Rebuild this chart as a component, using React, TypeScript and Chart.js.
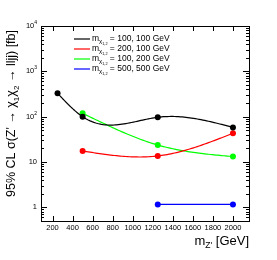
import React, { useEffect, useRef } from "react";
import { Chart, registerables } from "chart.js";
Chart.register(...registerables);

// ---- data ----
const blackX = [250, 500, 1250, 2000];
const blackY = [328, 100, 97, 58];
const redX = [500, 1250, 2000];
const redY = [17.5, 13.6, 43];
const greenX = [500, 1250, 2000];
const greenY = [119, 23.7, 13.2];
const blueX = [1250, 2000];
const blueY = [1.16, 1.16];

const seriesLabels = ["100, 100 GeV", "200, 100 GeV", "100, 200 GeV", "500, 500 GeV"];
const seriesColors = ["#000000", "#ff0000", "#00ff00", "#0000ff"];

const xTickValues = [200, 400, 600, 800, 1000, 1200, 1400, 1600, 1800, 2000];
const yTickValues = [1, 10, 100, 1000, 10000];
const yTickBase = ["1", "10", "10", "10", "10"];
const yTickExp = ["", "", "2", "3", "4"];

const FONT = "'Liberation Sans', Arial, Helvetica, sans-serif";

type Seg = { t: string; s: number; dy?: number };

function segWidth(ctx: CanvasRenderingContext2D, segs: Seg[]) {
  let w = 0;
  for (const g of segs) {
    ctx.font = `${g.s}px ${FONT}`;
    w += ctx.measureText(g.t).width;
  }
  return w;
}

function drawSegs(ctx: CanvasRenderingContext2D, segs: Seg[], x: number, y: number) {
  let cx = x;
  for (const g of segs) {
    ctx.font = `${g.s}px ${FONT}`;
    ctx.fillText(g.t, cx, y + (g.dy || 0));
    cx += ctx.measureText(g.t).width;
  }
}

// natural cubic spline through pixel points (x increasing), like ROOT's "C" option
function splinePath(ctx: CanvasRenderingContext2D, pts: { x: number; y: number }[]) {
  const n = pts.length;
  if (n < 2) return;
  ctx.moveTo(pts[0].x, pts[0].y);
  if (n === 2) {
    ctx.lineTo(pts[1].x, pts[1].y);
    return;
  }
  const h: number[] = [];
  for (let i = 0; i < n - 1; i++) h.push(pts[i + 1].x - pts[i].x);
  // solve tridiagonal for M (second derivatives), natural ends
  const M = new Array(n).fill(0);
  const a: number[] = [], b: number[] = [], c: number[] = [], d: number[] = [];
  for (let i = 1; i < n - 1; i++) {
    a.push(h[i - 1]);
    b.push(2 * (h[i - 1] + h[i]));
    c.push(h[i]);
    d.push(6 * ((pts[i + 1].y - pts[i].y) / h[i] - (pts[i].y - pts[i - 1].y) / h[i - 1]));
  }
  const m = b.length;
  for (let i = 1; i < m; i++) {
    const w = a[i] / b[i - 1];
    b[i] -= w * c[i - 1];
    d[i] -= w * d[i - 1];
  }
  const sol = new Array(m).fill(0);
  sol[m - 1] = d[m - 1] / b[m - 1];
  for (let i = m - 2; i >= 0; i--) sol[i] = (d[i] - c[i] * sol[i + 1]) / b[i];
  for (let i = 0; i < m; i++) M[i + 1] = sol[i];
  for (let i = 0; i < n - 1; i++) {
    const x0 = pts[i].x, x1 = pts[i + 1].x, y0 = pts[i].y, y1 = pts[i + 1].y, hh = h[i];
    const steps = 40;
    for (let k = 1; k <= steps; k++) {
      const x = x0 + (hh * k) / steps;
      const A = x1 - x, B = x - x0;
      const y =
        (M[i] * A * A * A) / (6 * hh) +
        (M[i + 1] * B * B * B) / (6 * hh) +
        (y0 / hh - (M[i] * hh) / 6) * A +
        (y1 / hh - (M[i + 1] * hh) / 6) * B;
      ctx.lineTo(x, y);
    }
  }
}

const splinePlugin = {
  id: "rootSpline",
  beforeDatasetDraw(chart: any, args: any) {
    const meta = args.meta;
    const ds = chart.data.datasets[args.index];
    const pts = meta.data.map((p: any) => ({ x: p.x, y: p.y }));
    const ctx: CanvasRenderingContext2D = chart.ctx;
    const { left, right, top, bottom } = chart.chartArea;
    ctx.save();
    ctx.beginPath();
    ctx.rect(left, top, right - left, bottom - top);
    ctx.clip();
    ctx.strokeStyle = ds.borderColor;
    ctx.lineWidth = 1.2;
    ctx.lineJoin = "round";
    ctx.beginPath();
    splinePath(ctx, pts);
    ctx.stroke();
    ctx.restore();
  },
};

const rootPlugin = {
  id: "rootStyle",
  afterDraw(chart: any) {
    const ctx: CanvasRenderingContext2D = chart.ctx;
    const { left, right, top, bottom } = chart.chartArea;
    const xs = chart.scales.x;
    const ys = chart.scales.y;
    ctx.save();
    ctx.strokeStyle = "#000";
    ctx.fillStyle = "#000";
    ctx.lineWidth = 1;

    // frame
    ctx.strokeRect(Math.round(left) + 0.5, Math.round(top) + 0.5, Math.round(right - left), Math.round(bottom - top));

    // x ticks (bottom & top)
    ctx.beginPath();
    for (const v of xTickValues) {
      const px = Math.round(xs.getPixelForValue(v)) + 0.5;
      ctx.moveTo(px, bottom);
      ctx.lineTo(px, bottom - 5);
      ctx.moveTo(px, top);
      ctx.lineTo(px, top + 5);
    }
    // y ticks (left & right), major and minor
    for (let e = -1; e <= 3; e++) {
      for (let m = 1; m <= 9; m++) {
        const v = m * Math.pow(10, e);
        if (v < 0.5 || v > 10000) continue;
        const py = Math.round(ys.getPixelForValue(v)) + 0.5;
        const len = m === 1 ? 6 : 3;
        ctx.moveTo(left, py);
        ctx.lineTo(left + len, py);
        ctx.moveTo(right, py);
        ctx.lineTo(right - len, py);
      }
    }
    {
      const py = Math.round(ys.getPixelForValue(10000)) + 0.5;
      ctx.moveTo(left, py);
      ctx.lineTo(left + 6, py);
      ctx.moveTo(right, py);
      ctx.lineTo(right - 6, py);
    }
    ctx.stroke();

    // x tick labels
    ctx.textAlign = "center";
    ctx.textBaseline = "alphabetic";
    ctx.font = `7.5px ${FONT}`;
    for (const v of xTickValues) {
      ctx.fillText(String(v), xs.getPixelForValue(v), bottom + 9);
    }

    // y tick labels
    ctx.textAlign = "left";
    ctx.textBaseline = "middle";
    yTickValues.forEach((v, i) => {
      const py = ys.getPixelForValue(v);
      const segs: Seg[] = [{ t: yTickBase[i], s: 7.5 }];
      if (yTickExp[i]) segs.push({ t: yTickExp[i], s: 5, dy: -3.5 });
      const w = segWidth(ctx, segs);
      drawSegs(ctx, segs, left - 4 - w, py);
    });

    // x title
    ctx.textBaseline = "alphabetic";
    const xt: Seg[] = [
      { t: "m", s: 13 },
      { t: "Z'", s: 8.5, dy: 3 },
      { t: " [GeV]", s: 13 },
    ];
    const xw = segWidth(ctx, xt);
    drawSegs(ctx, xt, right - xw, 245);

    // y title (rotated)
    const F = 12.5;
    const yt: Seg[] = [
      { t: "95% CL σ(Z' → χ", s: F },
      { t: "1", s: F * 0.65, dy: F * 0.3 },
      { t: "χ", s: F },
      { t: "2", s: F * 0.65, dy: F * 0.3 },
      { t: " → lljj) [fb]", s: F },
    ];
    const yw = segWidth(ctx, yt);
    ctx.save();
    ctx.translate(15, 30);
    ctx.rotate(-Math.PI / 2);
    drawSegs(ctx, yt, -yw, 0);
    ctx.restore();

    // legend
    const rowsY = [39, 49, 59, 69];
    ctx.textBaseline = "middle";
    seriesLabels.forEach((lab, i) => {
      const y = rowsY[i];
      ctx.strokeStyle = seriesColors[i];
      ctx.lineWidth = 1.2;
      ctx.beginPath();
      ctx.moveTo(74, y);
      ctx.lineTo(90, y);
      ctx.stroke();
      ctx.fillStyle = "#000";
      drawSegs(ctx, [
        { t: "m", s: 8.5 },
        { t: "χ", s: 6, dy: 2.5 },
        { t: "1,2", s: 3.8, dy: 4.8 },
        { t: " = " + lab, s: 8.5 },
      ], 92, y);
    });
    ctx.restore();
  },
};

function toXY(xs: number[], ys: number[]) {
  return xs.map((x, i) => ({ x, y: ys[i] }));
}

export default function App() {
  const ref = useRef<HTMLCanvasElement>(null);
  useEffect(() => {
    if (!ref.current) return;
    const mk = (xs: number[], ys: number[], c: string) => ({
      data: toXY(xs, ys),
      borderColor: c,
      backgroundColor: c,
      pointBackgroundColor: c,
      pointBorderColor: c,
      pointRadius: 3,
      pointBorderWidth: 0,
      borderWidth: 1.2,
      showLine: false,
      fill: false,
    });
    const chart = new Chart(ref.current, {
      type: "line",
      data: {
        datasets: [
          mk(blackX, blackY, seriesColors[0]),
          mk(redX, redY, seriesColors[1]),
          mk(greenX, greenY, seriesColors[2]),
          mk(blueX, blueY, seriesColors[3]),
        ],
      },
      options: {
        responsive: false,
        animation: false,
        devicePixelRatio: 1,
        layout: { padding: { left: 41, right: 28, top: 26, bottom: 39 } },
        scales: {
          x: { type: "linear", min: 85, max: 2160, display: false },
          y: { type: "logarithmic", min: 0.5, max: 10000, display: false },
        },
        plugins: { legend: { display: false }, tooltip: { enabled: false } },
      },
      plugins: [splinePlugin, rootPlugin],
    } as any);
    return () => chart.destroy();
  }, []);
  return (
    <div style={{ position: "fixed", left: 0, top: 0, width: 277, height: 260, background: "#fff" }}>
      <canvas ref={ref} width={277} height={260} style={{ width: 277, height: 260 }} />
    </div>
  );
}
